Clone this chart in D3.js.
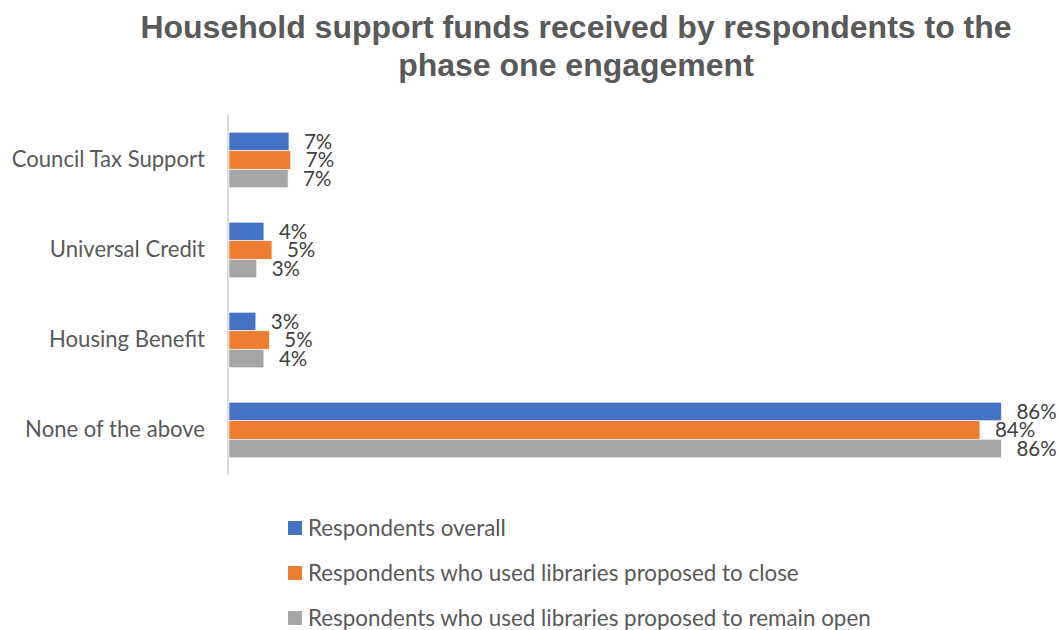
<!DOCTYPE html>
<html>
<head>
<meta charset="utf-8">
<script src="https://cdn.jsdelivr.net/npm/d3@7"></script>
<style>
  html, body { margin: 0; padding: 0; background: #fff; }
  svg { display: block; }
</style>
</head>
<body>
<svg id="chart" width="1060" height="630"></svg>
<script>
// ---- Data ----
const categories = ["Council Tax Support", "Universal Credit", "Housing Benefit", "None of the above"];
const seriesNames = [
  "Respondents overall",
  "Respondents who used libraries proposed to close",
  "Respondents who used libraries proposed to remain open"
];
const overall    = [6.7, 3.9, 3.0, 86.3];
const toClose    = [6.9, 4.8, 4.5, 83.9];
const remainOpen = [6.6, 3.1, 3.9, 86.3];
const seriesColors = ["#4472C4", "#ED7D31", "#A5A5A5"];
const titleLines = ["Household support funds received by respondents to the", "phase one engagement"];

const seriesValues = [overall, toClose, remainOpen];

// ---- Layout ----
const svg = d3.select("#chart");
const x = d3.scaleLinear().domain([0, 100]).range([229, 229 + 895]);
const y = d3.scaleBand().domain(categories).range([115, 475]).paddingInner(0.383).paddingOuter(0.1915);
const ySub = d3.scaleBand().domain(d3.range(seriesNames.length)).range([0, y.bandwidth()]);

// Title
svg.append("g").selectAll("text").data(titleLines).join("text")
  .attr("x", 576)
  .attr("y", (d, i) => 37.5 + i * 38)
  .attr("text-anchor", "middle")
  .style("font-family", "'Liberation Sans', Arial, sans-serif")
  .style("font-weight", "bold")
  .style("font-size", "32px")
  .style("fill", "#595959")
  .text(d => d);

// Category axis
const yAxis = svg.append("g").attr("transform", "translate(228,0)")
  .call(d3.axisLeft(y).tickSize(0).tickPadding(23));
yAxis.select(".domain").attr("stroke", "#d9d9d9").attr("stroke-width", 2).attr("d", "M0,115V475");
yAxis.selectAll("text")
  .style("font-family", "Lato, 'Open Sans', sans-serif")
  .style("font-size", "22.1px")
  .style("fill", "#595959");

// Bars
const groups = svg.append("g").selectAll("g").data(categories).join("g")
  .attr("transform", d => `translate(0,${y(d)})`);

groups.each(function(cat, ci) {
  const g = d3.select(this);
  seriesValues.forEach((vals, si) => {
    const v = vals[ci];
    g.append("rect")
      .attr("x", x(0))
      .attr("y", ySub(si))
      .attr("width", x(v) - x(0))
      .attr("height", ySub.bandwidth())
      .attr("fill", seriesColors[si])
      .attr("stroke", "#ffffff")
      .attr("stroke-width", 0.6);
    g.append("text")
      .attr("x", x(v) + 15)
      .attr("y", ySub(si) + ySub.bandwidth() / 2)
      .attr("dy", "0.36em")
      .style("font-family", "Lato, 'Open Sans', sans-serif")
      .style("font-size", "20.5px")
      .style("fill", "#404040")
      .text(Math.round(v) + "%");
  });
});

// Legend
const legend = svg.append("g").selectAll("g").data(seriesNames).join("g")
  .attr("transform", (d, i) => `translate(288,${528 + i * 45})`);
legend.append("rect")
  .attr("x", 0).attr("y", -7).attr("width", 14).attr("height", 14)
  .attr("fill", (d, i) => seriesColors[i]);
legend.append("text")
  .attr("x", 20).attr("y", 0).attr("dy", "0.35em")
  .style("font-family", "Lato, 'Open Sans', sans-serif")
  .style("font-size", "22.4px")
  .style("fill", "#595959")
  .text(d => d);
</script>
</body>
</html>
